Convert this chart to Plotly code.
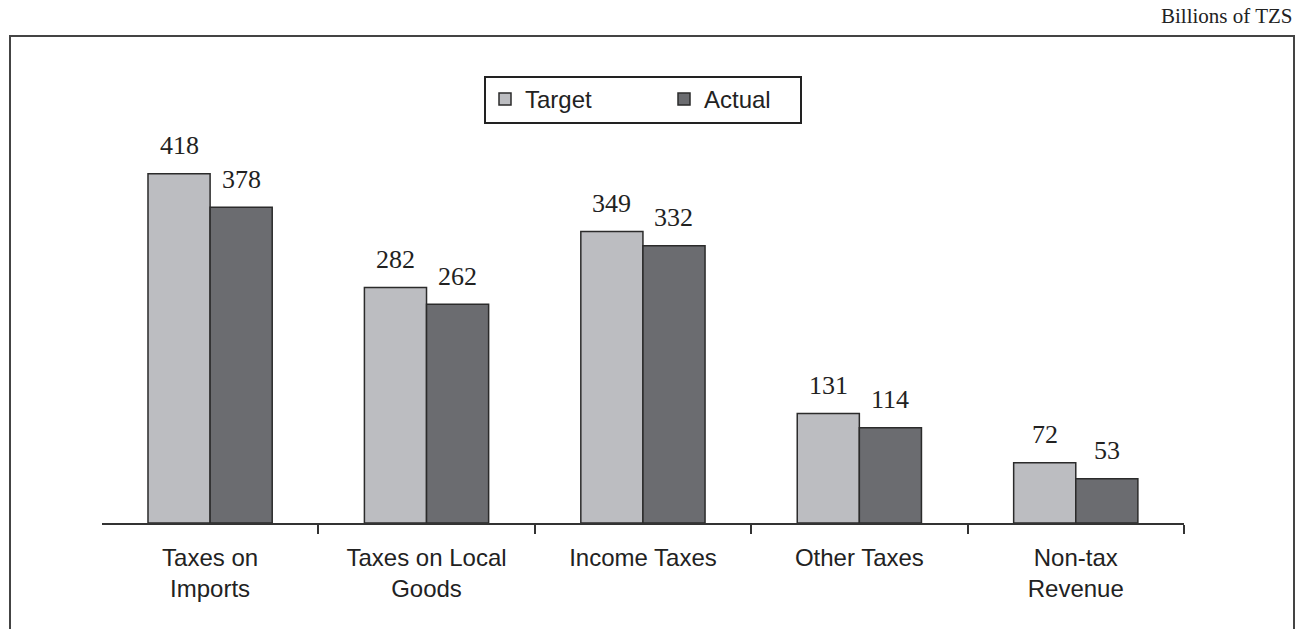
import plotly.graph_objects as go

categories = ["Taxes on<br>Imports", "Taxes on Local<br>Goods", "Income Taxes", "Other Taxes", "Non-tax<br>Revenue"]
target = [418, 282, 349, 131, 72]
actual = [378, 262, 332, 114, 53]
series_names = ["Target", "Actual"]
unit_label = "Billions of TZS"

BARGAP = 0.426
colors = ["#bcbdc1", "#6b6c70"]
SERIF = "Liberation Serif, Times New Roman, serif"
SANS = "Liberation Sans, Arial, sans-serif"

xs = list(range(len(categories)))
fig = go.Figure()
for k, (name, vals) in enumerate(zip(series_names, [target, actual])):
    fig.add_trace(go.Bar(
        x=xs, y=vals, name=name,
        marker=dict(color=colors[k], line=dict(color="#2b2b2b", width=1.5)),
    ))

half = (1 - BARGAP) / 2
for k, vals in enumerate([target, actual]):
    for i, v in enumerate(vals):
        fig.add_annotation(
            x=i + (k - 0.5) * half, y=v, xref="x", yref="y",
            text=str(v), showarrow=False, yanchor="middle", yshift=28,
            font=dict(family=SERIF, size=26, color="#222222"),
        )

W, H = 1301, 629
ml, mr, mt, mb = 102, 117, 36, 106
pw = W - ml - mr
ph = H - mt - mb

def px_to_paper_x(px):
    return (px - ml) / pw

def px_to_paper_y(py):
    return (H - mb - py) / ph

# outer frame
fig.add_shape(type="rect", xref="paper", yref="paper",
              x0=px_to_paper_x(10), x1=px_to_paper_x(1294),
              y0=px_to_paper_y(700), y1=px_to_paper_y(36),
              line=dict(color="#444444", width=2), layer="below")

# legend box
fig.add_shape(type="rect", xref="paper", yref="paper",
              x0=px_to_paper_x(485), x1=px_to_paper_x(801),
              y0=px_to_paper_y(123), y1=px_to_paper_y(77),
              line=dict(color="#222222", width=2), fillcolor="white", layer="below")

fig.add_annotation(
    x=px_to_paper_x(1294), y=px_to_paper_y(16), xref="paper", yref="paper",
    text=unit_label, showarrow=False, xanchor="right", yanchor="middle",
    font=dict(family=SERIF, size=21, color="#222222"),
)

fig.update_layout(
    width=W, height=H,
    margin=dict(l=ml, r=mr, t=mt, b=mb, pad=0),
    paper_bgcolor="white", plot_bgcolor="white",
    barmode="group", bargap=BARGAP, bargroupgap=0,
    showlegend=True,
    legend=dict(
        orientation="h", x=px_to_paper_x(485), xanchor="left",
        y=px_to_paper_y(77), yanchor="top",
        borderwidth=0, bgcolor="rgba(0,0,0,0)",
        font=dict(family=SANS, size=24, color="#222222"),
        entrywidth=134, traceorder="normal",
    ),
    xaxis=dict(
        range=[-0.4995, 4.5001],
        tickmode="array", tickvals=xs, ticktext=categories,
        ticks="", showgrid=False, zeroline=False,
        showline=True, linecolor="#333333", linewidth=2,
        ticklabelstandoff=12,
        tickfont=dict(family=SANS, size=24, color="#222222"),
        minor=dict(tick0=0.5, dtick=1, ticks="outside", ticklen=9,
                   tickwidth=2, tickcolor="#333333", showgrid=False),
    ),
    yaxis=dict(range=[0, 583], visible=False, fixedrange=True),
)

fig.write_html("out.html")
